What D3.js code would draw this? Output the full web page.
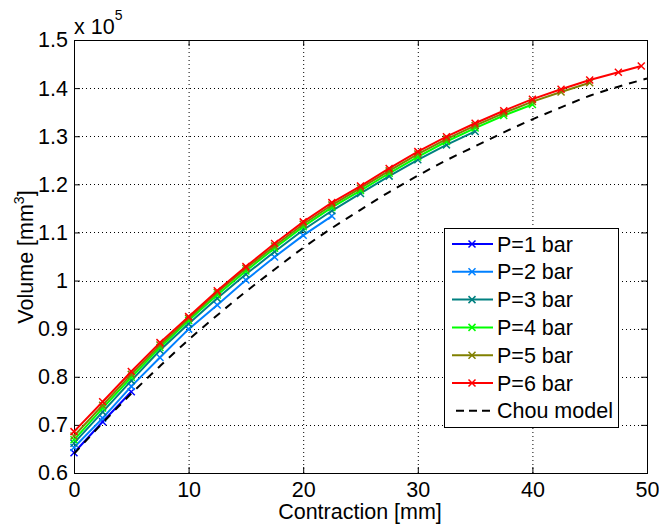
<!DOCTYPE html>
<html><head><meta charset="utf-8">
<script src="https://cdn.jsdelivr.net/npm/d3@7"></script>
<style>body{margin:0;background:#fff}svg{display:block}text{font-family:"Liberation Sans",Arial,sans-serif;fill:#000}</style>
</head><body>
<script>
// Data (contraction in mm, volume in units of 1e5 mm^3)
const xP1 = [0, 2.5, 5];
const yP1 = [0.642, 0.7065, 0.769];
const xP2 = [0, 2.5, 5, 7.5, 10, 12.5, 15, 17.5, 20, 22.5];
const yP2 = [0.653, 0.714, 0.780, 0.840, 0.899, 0.949, 1.001, 1.049, 1.094, 1.134];
const xP3 = [0, 2.5, 5, 7.5, 10, 12.5, 15, 17.5, 20, 22.5, 25, 27.5, 30, 32.5, 35];
const yP3 = [0.662, 0.727, 0.792, 0.855, 0.910, 0.963, 1.013, 1.060, 1.105, 1.145, 1.181, 1.217, 1.251, 1.282, 1.310];
const xP4 = [0, 2.5, 5, 7.5, 10, 12.5, 15, 17.5, 20, 22.5, 25, 27.5, 30, 32.5, 35, 37.5, 40];
const yP4 = [0.669, 0.735, 0.799, 0.861, 0.917, 0.970, 1.020, 1.067, 1.112, 1.152, 1.187, 1.223, 1.257, 1.289, 1.317, 1.343, 1.366];
const xP5 = [0, 2.5, 5, 7.5, 10, 12.5, 15, 17.5, 20, 22.5, 25, 27.5, 30, 32.5, 35, 37.5, 40, 42.5, 45];
const yP5 = [0.677, 0.741, 0.805, 0.866, 0.921, 0.975, 1.025, 1.072, 1.117, 1.157, 1.192, 1.228, 1.263, 1.294, 1.322, 1.348, 1.372, 1.392, 1.411];
const xP6 = [0, 2.5, 5, 7.5, 10, 12.5, 15, 17.5, 20, 22.5, 25, 27.5, 30, 32.5, 35, 37.5, 40, 42.5, 45, 47.5, 49.5];
const yP6 = [0.686, 0.748, 0.811, 0.871, 0.925, 0.979, 1.029, 1.077, 1.122, 1.162, 1.1965, 1.233, 1.268, 1.299, 1.327, 1.353, 1.377, 1.3975, 1.417, 1.433, 1.446];
const xChou = [0, 2.5, 5, 7.5, 10, 12.5, 15, 17.5, 20, 22.5, 25, 27.5, 30, 32.5, 35, 37.5, 40, 42.5, 45, 47.5, 50];
const yChou = [0.640, 0.704, 0.765, 0.822, 0.877, 0.928, 0.977, 1.023, 1.068, 1.109, 1.147, 1.184, 1.218, 1.250, 1.279, 1.308, 1.335, 1.360, 1.384, 1.403, 1.420];
const seriesNames = ["P=1 bar","P=2 bar","P=3 bar","P=4 bar","P=5 bar","P=6 bar"];
const seriesColors = ["#0000ff","#0080ff","#008080","#00ff00","#808000","#ff0000"];
const xTicks = [0, 10, 20, 30, 40, 50];
const yTicks = [0.6, 0.7, 0.8, 0.9, 1.0, 1.1, 1.2, 1.3, 1.4, 1.5];
const yTickLabels = ["0.6","0.7","0.8","0.9","1","1.1","1.2","1.3","1.4","1.5"];
const xLabel = "Contraction [mm]";
const chouName = "Chou model";

const W = 659, H = 526;
const L = 74, R = 647, T = 40, B = 473;
const svg = d3.select("body").append("svg").attr("width", W).attr("height", H);
const x = d3.scaleLinear().domain([0, 50]).range([L, R]);
const y = d3.scaleLinear().domain([0.6, 1.5]).range([B, T]);
const FS = "21.5px";
const SUP = "14px";

// grid
const g = svg.append("g");
g.selectAll("line.gx").data(xTicks.slice(1, -1)).join("line")
  .attr("x1", d => x(d) + 0.5).attr("x2", d => x(d) + 0.5).attr("y1", T).attr("y2", B)
  .attr("stroke", "#000").attr("stroke-width", 1).attr("stroke-dasharray", "1,3");
g.selectAll("line.gy").data(yTicks.slice(1, -1)).join("line")
  .attr("y1", d => Math.round(y(d)) + 0.5).attr("y2", d => Math.round(y(d)) + 0.5).attr("x1", L).attr("x2", R)
  .attr("stroke", "#000").attr("stroke-width", 1).attr("stroke-dasharray", "1,3");

// axes
const axB = d3.axisBottom(x).tickValues(xTicks).tickSize(-6).tickPadding(9).tickFormat(d3.format("d"));
const axT = d3.axisTop(x).tickValues(xTicks).tickSize(-6).tickFormat("");
const axL = d3.axisLeft(y).tickValues(yTicks).tickSize(-6).tickPadding(6).tickFormat((d, i) => yTickLabels[i]);
const axR = d3.axisRight(y).tickValues(yTicks).tickSize(-6).tickFormat("");
function style(sel) {
  sel.select(".domain").remove();
  sel.selectAll("line").attr("stroke", "#000");
  sel.selectAll("text").style("font-size", FS).style("font-family", '"Liberation Sans",Arial,sans-serif').attr("fill", "#000");
}
svg.append("g").attr("transform", `translate(0,${B})`).call(axB).call(style);
svg.append("g").attr("transform", `translate(0,${T})`).call(axT).call(style);
svg.append("g").attr("transform", `translate(${L},0)`).call(axL).call(style);
svg.append("g").attr("transform", `translate(${R},0)`).call(axR).call(style);
svg.append("rect").attr("x", L + 0.5).attr("y", T + 0.5).attr("width", R - L).attr("height", B - T)
  .attr("fill", "none").attr("stroke", "#000").attr("stroke-width", 1);

// series
const allX = [xP1, xP2, xP3, xP4, xP5, xP6];
const allY = [yP1, yP2, yP3, yP4, yP5, yP6];
const line = d3.line().x(d => x(d[0])).y(d => y(d[1]));
const ms = 3.5;
function xMarker(sel, cx, cy, color) {
  sel.append("path").attr("d", `M${cx - ms},${cy - ms}L${cx + ms},${cy + ms}M${cx - ms},${cy + ms}L${cx + ms},${cy - ms}`)
    .attr("stroke", color).attr("stroke-width", 1.5).attr("fill", "none");
}
const pg = svg.append("g");
allX.forEach((xs, i) => {
  const pts = xs.map((v, j) => [v, allY[i][j]]);
  pg.append("path").attr("d", line(pts)).attr("fill", "none").attr("stroke", seriesColors[i]).attr("stroke-width", 2);
  pts.forEach(p => xMarker(pg, x(p[0]), y(p[1]), seriesColors[i]));
});
const chouPts = xChou.map((v, j) => [v, yChou[j]]);
pg.append("path").attr("d", d3.line().curve(d3.curveMonotoneX).x(d => x(d[0])).y(d => y(d[1]))(chouPts))
  .attr("fill", "none").attr("stroke", "#000").attr("stroke-width", 2).attr("stroke-dasharray", "8,7");

// labels
svg.append("text").attr("x", 360).attr("y", 519).attr("text-anchor", "middle").style("font-size", FS).text(xLabel);
const yl = svg.append("text").attr("transform", `translate(33,257) rotate(-90)`).attr("text-anchor", "middle").style("font-size", FS);
yl.append("tspan").text("Volume [mm");
yl.append("tspan").attr("dy", -9).style("font-size", SUP).text("3");
yl.append("tspan").attr("dy", 9).text("]");
const ex = svg.append("text").attr("x", 74).attr("y", 34).style("font-size", FS);
ex.append("tspan").text("x 10");
ex.append("tspan").attr("dy", -14).style("font-size", SUP).text("5");

// legend
const lg = svg.append("g");
lg.append("rect").attr("x", 444.5).attr("y", 228.5).attr("width", 174).attr("height", 199)
  .attr("fill", "#fff").attr("stroke", "#000").attr("stroke-width", 1);
const names = seriesNames.concat([chouName]);
names.forEach((n, i) => {
  const yy = 244 + i * 27.8;
  const c = i < 6 ? seriesColors[i] : "#000";
  const ln = lg.append("line").attr("x1", 452).attr("x2", 493).attr("y1", yy).attr("y2", yy).attr("stroke", c).attr("stroke-width", 2);
  if (i < 6) xMarker(lg, 472, yy, c); else ln.attr("stroke-dasharray", "8,5").attr("x1", 456);
  lg.append("text").attr("x", 497).attr("y", yy + 7.5).style("font-size", FS).text(n);
});
</script>
</body></html>
